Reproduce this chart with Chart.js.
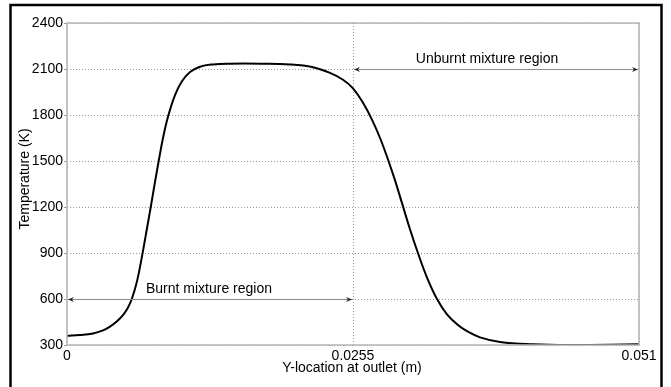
<!DOCTYPE html>
<html>
<head>
<meta charset="utf-8">
<script src="https://cdn.jsdelivr.net/npm/chart.js@4.4.1/dist/chart.umd.min.js"></script>
<style>
  html, body { margin: 0; padding: 0; background: #fff; }
  #wrap { width: 671px; height: 387px; position: relative; }
</style>
</head>
<body>
<div id="wrap"><canvas id="myChart" width="671" height="387"></canvas></div>
<script>
// y-location at outlet (m)
const yLocation = [0, 0.00116, 0.00232, 0.00321, 0.00383, 0.00446, 0.00499, 0.00544, 0.0058, 0.00624,
    0.00669, 0.00713, 0.00749, 0.00785, 0.0082, 0.00856, 0.00901, 0.00963, 0.01025, 0.01097,
    0.01186, 0.01302, 0.01453, 0.01721, 0.01988, 0.02193, 0.02345, 0.02461, 0.0255, 0.02639,
    0.02719, 0.02791, 0.02862, 0.02924, 0.02987, 0.03058, 0.03129, 0.0321, 0.03299, 0.03388,
    0.03486, 0.03566, 0.03682, 0.03861, 0.04155, 0.04485, 0.04841, 0.051];
// temperature (K)
const temperature = [360, 365, 375, 395, 420, 455, 495, 545, 605, 715,
    880, 1060, 1210, 1365, 1510, 1650, 1790, 1930, 2020, 2080,
    2115, 2130, 2135, 2135, 2130, 2112, 2075, 2030, 1974, 1880,
    1770, 1650, 1510, 1375, 1225, 1055, 900, 740, 600, 500,
    430, 390, 350, 320, 305, 300, 302, 305];

const xTicks = [0, 0.0255, 0.051];
const xTickLabels = ['0', '0.0255', '0.051'];
const yTicks = [300, 600, 900, 1200, 1500, 1800, 2100, 2400];

const burntSpan = [0, 0.0255];      // arrow at T = 600
const unburntSpan = [0.0255, 0.051]; // arrow at T = 2100

const FONT = '"Liberation Sans", Arial, sans-serif';

function arrowHead(ctx, x, y, dir) {
    ctx.beginPath();
    ctx.moveTo(x, y);
    ctx.lineTo(x - dir * 6, y - 2.5);
    ctx.lineTo(x - dir * 4, y);
    ctx.lineTo(x - dir * 6, y + 2.5);
    ctx.closePath();
    ctx.fill();
}

function spanArrow(ctx, chart, span, t, label) {
    const xs = chart.scales.x, ys = chart.scales.y;
    const x1 = xs.getPixelForValue(span[0]) + 1;
    const x2 = xs.getPixelForValue(span[1]) - 1;
    const y = Math.round(ys.getPixelForValue(t)) + 0.5;
    ctx.save();
    ctx.strokeStyle = '#8c8c8c';
    ctx.lineWidth = 1;
    ctx.setLineDash([]);
    ctx.beginPath();
    ctx.moveTo(x1, y);
    ctx.lineTo(x2, y);
    ctx.stroke();
    ctx.fillStyle = '#222';
    arrowHead(ctx, x1, y, -1);
    arrowHead(ctx, x2, y, 1);
    ctx.fillStyle = '#000';
    ctx.font = '14px ' + FONT;
    ctx.textAlign = 'center';
    ctx.textBaseline = 'middle';
    ctx.fillText(label.text, label.x, y - 10);
    ctx.restore();
}

const decor = {
    id: 'decor',
    afterDatasetsDraw(chart) {
        const ctx = chart.ctx;
        const a = chart.chartArea;
        // plot frame
        ctx.save();
        ctx.strokeStyle = '#b4b4b4';
        ctx.lineWidth = 1.5;
        ctx.strokeRect(a.left, a.top, a.right - a.left, a.bottom - a.top);
        ctx.restore();

        spanArrow(ctx, chart, burntSpan, 600, { text: 'Burnt mixture region', x: 209 });
        spanArrow(ctx, chart, unburntSpan, 2100, { text: 'Unburnt mixture region', x: 487 });

        // axis titles
        ctx.save();
        ctx.fillStyle = '#000';
        ctx.font = '14px ' + FONT;
        ctx.textAlign = 'center';
        ctx.textBaseline = 'middle';
        ctx.fillText('Y-location at outlet (m)', 352, 368);
        ctx.translate(25, 179);
        ctx.rotate(-Math.PI / 2);
        ctx.fillText('Temperature (K)', 0, 0);
        ctx.restore();

        // outer black frame
        ctx.save();
        ctx.strokeStyle = '#000';
        ctx.lineWidth = 2.5;
        ctx.strokeRect(10.5, 5, 651, 400);
        ctx.restore();
    }
};

const data = {
    datasets: [{
        data: yLocation.map((x, i) => ({ x: x, y: temperature[i] })),
        borderColor: '#000',
        borderWidth: 2,
        pointRadius: 0,
        fill: false,
        tension: 0.4,
    }]
};

const config = {
    type: 'line',
    data: data,
    options: {
        responsive: false,
        animation: false,
        layout: {
            padding: { left: 0, top: 23, right: 32, bottom: 0 }
        },
        plugins: {
            legend: { display: false },
            tooltip: { enabled: false }
        },
        scales: {
            x: {
                type: 'linear',
                min: 0,
                max: 0.051,
                afterBuildTicks: (scale) => {
                    scale.ticks = xTicks.map(v => ({ value: v }));
                },
                afterFit: (scale) => { scale.height = 42; },
                ticks: {
                    autoSkip: false,
                    maxRotation: 0,
                    padding: 3,
                    color: '#000',
                    font: { family: FONT, size: 14 },
                    callback: (v) => {
                        const i = xTicks.indexOf(v);
                        return i >= 0 ? xTickLabels[i] : '';
                    }
                },
                grid: {
                    color: '#9a9a9a',
                    lineWidth: 1,
                    drawTicks: false
                },
                border: { display: false, dash: [1, 2] }
            },
            y: {
                min: 300,
                max: 2400,
                afterBuildTicks: (scale) => {
                    scale.ticks = yTicks.map(v => ({ value: v }));
                },
                afterFit: (scale) => { scale.width = 67; },
                ticks: {
                    padding: 1,
                    color: '#000',
                    font: { family: FONT, size: 14 },
                    callback: (v) => String(v)
                },
                grid: {
                    color: '#9a9a9a',
                    lineWidth: 1,
                    tickLength: 3
                },
                border: { display: false, dash: [1, 2] }
            }
        }
    },
    plugins: [decor]
};

var myChart = new Chart(
    document.getElementById('myChart'),
    config
);
</script>
</body>
</html>
